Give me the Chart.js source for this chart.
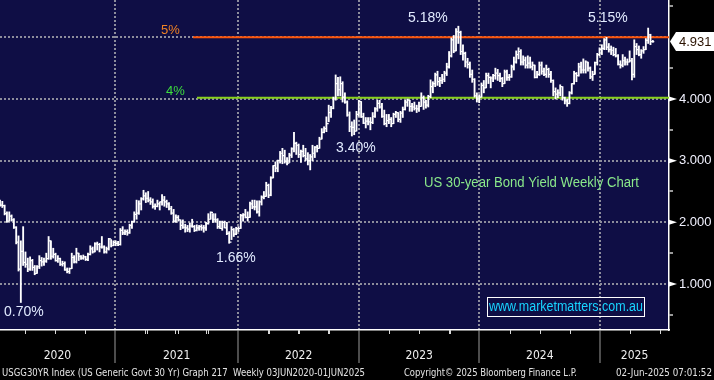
<!DOCTYPE html>
<html><head><meta charset="utf-8">
<script src="https://cdn.jsdelivr.net/npm/chart.js@4.4.1/dist/chart.umd.min.js"></script>
<style>
html,body{margin:0;padding:0;background:#000;overflow:hidden}
#wrap{position:relative;width:714px;height:380px}
canvas{display:block}
</style></head><body>
<div id="wrap"><canvas id="c" width="714" height="380"></canvas></div>
<script>
// Weekly US 30-year yield, week 0 = first week of Jan 2020, last = week of 2 Jun 2025
const weekHigh = [
2.36,2.34,2.28,2.17,2.17,2.12,2.06,1.93,1.78,1.70,1.93,1.52,1.42,1.44,1.40,1.30,1.30,1.46,1.43,1.42,
1.50,1.77,1.70,1.58,1.50,1.46,1.42,1.37,1.36,1.26,1.26,1.50,1.46,1.58,1.50,1.46,1.47,1.45,1.50,1.62,
1.60,1.67,1.68,1.66,1.77,1.62,1.60,1.74,1.72,1.70,1.70,1.69,1.90,1.93,1.88,1.88,1.97,2.02,2.17,2.36,
2.35,2.40,2.52,2.48,2.50,2.40,2.38,2.30,2.36,2.33,2.45,2.42,2.36,2.32,2.26,2.21,2.12,2.11,2.04,2.04,
1.97,1.95,1.99,2.05,1.95,1.96,1.95,1.96,1.95,2.00,2.14,2.17,2.14,2.14,2.06,2.02,2.02,2.02,2.00,1.85,
1.93,1.90,1.92,1.93,2.13,2.14,2.21,2.17,2.33,2.36,2.36,2.35,2.35,2.43,2.50,2.65,2.62,2.74,2.92,2.98,
3.01,3.15,3.20,3.17,3.05,3.12,3.21,3.46,3.30,3.27,3.17,3.25,3.20,3.13,3.10,3.25,3.23,3.25,3.38,3.52,
3.55,3.71,3.90,3.88,4.03,4.39,4.35,4.36,4.28,4.10,3.97,3.79,3.63,3.66,3.80,3.98,3.96,3.77,3.70,3.70,
3.70,3.78,3.86,3.98,3.98,3.93,3.82,3.75,3.75,3.70,3.77,3.80,3.78,3.80,3.87,3.98,4.00,3.98,3.93,3.95,
3.90,3.95,4.10,4.05,3.98,4.06,4.31,4.28,4.42,4.45,4.35,4.40,4.45,4.58,4.77,4.99,5.03,5.14,5.18,5.10,
4.88,4.76,4.66,4.60,4.47,4.33,4.10,4.07,4.26,4.30,4.42,4.42,4.36,4.40,4.50,4.48,4.42,4.35,4.47,4.47,
4.40,4.55,4.68,4.78,4.83,4.80,4.70,4.68,4.70,4.68,4.60,4.55,4.45,4.60,4.60,4.50,4.55,4.50,4.45,4.31,
4.18,4.15,4.23,4.20,4.03,4.00,4.12,4.25,4.45,4.43,4.58,4.60,4.65,4.62,4.60,4.52,4.45,4.60,4.74,4.83,
4.88,4.98,5.00,4.90,4.86,4.84,4.82,4.72,4.62,4.72,4.68,4.65,4.78,4.66,4.96,4.90,4.86,4.80,4.85,4.98,
5.15,5.05,4.95];
const weekLow = [
2.26,2.24,2.12,2.00,2.02,2.02,1.90,1.65,1.21,0.70,1.30,1.27,1.20,1.22,1.22,1.15,1.17,1.25,1.29,1.30,
1.35,1.40,1.40,1.42,1.37,1.35,1.30,1.29,1.22,1.18,1.17,1.25,1.34,1.34,1.38,1.40,1.40,1.38,1.38,1.47,
1.50,1.52,1.55,1.52,1.58,1.50,1.50,1.55,1.60,1.62,1.62,1.62,1.63,1.80,1.80,1.79,1.82,1.90,2.00,2.05,
2.13,2.20,2.36,2.32,2.33,2.29,2.23,2.21,2.25,2.20,2.28,2.26,2.24,2.20,2.13,2.00,2.00,2.02,1.88,1.90,
1.84,1.85,1.84,1.92,1.85,1.86,1.87,1.87,1.84,1.87,1.97,2.05,2.00,2.00,1.90,1.90,1.87,1.91,1.80,1.66,
1.72,1.77,1.80,1.85,1.90,2.02,2.07,2.02,2.08,2.22,2.20,2.15,2.10,2.28,2.38,2.42,2.40,2.43,2.72,2.82,
2.82,2.96,2.95,2.96,2.93,2.97,3.05,3.14,3.10,3.05,2.97,3.06,3.00,2.93,2.85,3.00,3.05,3.14,3.20,3.35,
3.45,3.47,3.63,3.70,3.84,3.98,4.05,4.05,3.95,3.93,3.72,3.47,3.40,3.42,3.48,3.72,3.70,3.60,3.53,3.58,
3.50,3.60,3.70,3.80,3.85,3.70,3.58,3.55,3.60,3.55,3.60,3.70,3.63,3.62,3.70,3.82,3.88,3.80,3.80,3.82,
3.78,3.80,3.88,3.83,3.85,3.87,4.02,4.10,4.20,4.22,4.20,4.25,4.28,4.38,4.50,4.68,4.75,4.78,4.90,4.72,
4.63,4.52,4.50,4.35,4.27,4.03,3.95,3.94,4.03,4.10,4.18,4.25,4.18,4.28,4.32,4.30,4.28,4.20,4.25,4.30,
4.30,4.35,4.47,4.58,4.65,4.55,4.55,4.50,4.50,4.50,4.47,4.34,4.34,4.38,4.40,4.38,4.35,4.35,4.27,4.05,
4.00,4.02,4.05,3.98,3.92,3.88,3.92,4.08,4.24,4.28,4.37,4.42,4.42,4.42,4.45,4.33,4.30,4.40,4.55,4.70,
4.72,4.80,4.80,4.76,4.72,4.70,4.68,4.55,4.50,4.52,4.55,4.55,4.60,4.31,4.35,4.72,4.70,4.66,4.74,4.80,
4.90,4.88,4.92];
const weekClose = [
2.28,2.27,2.14,2.02,2.10,2.04,1.92,1.68,1.24,1.53,1.35,1.32,1.24,1.38,1.27,1.17,1.28,1.38,1.36,1.37,
1.41,1.70,1.45,1.48,1.38,1.41,1.32,1.33,1.23,1.20,1.25,1.43,1.36,1.50,1.45,1.42,1.44,1.40,1.48,1.57,
1.52,1.65,1.64,1.60,1.60,1.52,1.57,1.73,1.62,1.67,1.66,1.64,1.87,1.83,1.85,1.83,1.95,2.01,2.13,2.15,
2.30,2.38,2.43,2.39,2.36,2.33,2.26,2.26,2.30,2.33,2.36,2.33,2.30,2.22,2.15,2.02,2.08,2.04,1.95,1.92,
1.91,1.89,1.94,1.93,1.87,1.91,1.93,1.91,1.91,1.98,2.05,2.16,2.05,2.04,1.93,1.90,2.00,1.91,1.82,1.68,
1.88,1.81,1.90,1.90,2.11,2.12,2.08,2.08,2.30,2.25,2.25,2.17,2.33,2.41,2.42,2.60,2.44,2.72,2.92,2.88,
3.00,3.12,3.08,2.99,2.96,3.09,3.19,3.28,3.25,3.10,3.15,3.08,3.03,3.00,3.06,3.12,3.22,3.20,3.35,3.46,
3.52,3.60,3.78,3.85,4.00,4.25,4.15,4.25,4.03,3.95,3.74,3.55,3.54,3.48,3.75,3.96,3.71,3.61,3.64,3.63,
3.62,3.72,3.84,3.93,3.87,3.72,3.60,3.65,3.67,3.60,3.75,3.78,3.67,3.77,3.83,3.95,3.98,3.88,3.87,3.85,
3.84,3.88,4.02,3.95,3.90,4.04,4.20,4.25,4.39,4.28,4.30,4.32,4.42,4.52,4.70,4.96,4.78,5.09,5.08,4.77,
4.74,4.60,4.56,4.40,4.32,4.05,4.00,4.03,4.22,4.18,4.38,4.35,4.34,4.38,4.42,4.38,4.33,4.25,4.44,4.35,
4.36,4.52,4.60,4.72,4.77,4.60,4.63,4.55,4.58,4.52,4.55,4.35,4.40,4.55,4.45,4.40,4.48,4.40,4.30,4.12,
4.08,4.10,4.20,4.02,3.97,3.93,4.10,4.25,4.41,4.38,4.52,4.47,4.47,4.60,4.50,4.36,4.40,4.59,4.72,4.80,
4.82,4.96,4.84,4.80,4.79,4.72,4.70,4.56,4.55,4.62,4.60,4.60,4.62,4.40,4.85,4.80,4.72,4.78,4.80,4.95,
5.04,4.93,4.931];
const yearLabels = ['2020','2021','2022','2023','2024','2025'];
const yieldTicks = [0.5,1,1.5,2,2.5,3,3.5,4,4.5,5,5.5];
const levelValues = [5.0, 4.02];
const levelLabels = ['5%', '4%'];
const noteTexts = ['5.18%', '5.15%', '3.40%', '1.66%', '0.70%'];

// ---- layout / style (not data) ----
const PLOT_BG = '#0f0e45';
const GRID_COL = '#8d8d9c';
const yearBoundaryWeek = [49.7, 102.8, 155.1, 207.1, 259.2];
const yearLabelWeek = [24.8, 76.3, 129.0, 181.1, 233.2, 274.1];
const boundarySet = new Set(yearBoundaryWeek);
const labelMap = new Map(yearLabelWeek.map((w, k) => [w, yearLabels[k]]));
const SANS = '"Liberation Sans", Arial, sans-serif';
const COND = '"DejaVu Sans Condensed", "Liberation Sans Narrow", sans-serif';

const barData = weekHigh.map((h, i) => ({x: i, y: [weekLow[i], h]}));

const bgPlugin = {
  id: 'bg',
  beforeDraw(chart) {
    const {ctx, chartArea: a} = chart;
    ctx.save();
    ctx.fillStyle = '#000';
    ctx.fillRect(0, 0, chart.width, chart.height);
    ctx.fillStyle = PLOT_BG;
    ctx.fillRect(a.left, a.top, a.right - a.left, a.bottom - a.top);
    ctx.restore();
  }
};

const levelPlugin = {
  id: 'levels',
  beforeDatasetsDraw(chart) {
    const {ctx, chartArea: a, scales: {x, y}} = chart;
    ctx.save();
    const specs = [
      {v: levelValues[0], from: 83.4, color: '#ff560a', w: 2},
      {v: levelValues[1], from: 85.1, color: '#8ad21c', w: 2.2}
    ];
    specs.forEach(s => {
      const py = y.getPixelForValue(s.v);
      ctx.strokeStyle = s.color; ctx.lineWidth = s.w;
      ctx.beginPath(); ctx.moveTo(x.getPixelForValue(s.from), py); ctx.lineTo(a.right, py); ctx.stroke();
    });
    ctx.restore();
  }
};

const ohlcPlugin = {
  id: 'ohlcTicks',
  afterDatasetsDraw(chart) {
    const {ctx, chartArea: a, scales: {x, y}} = chart;
    ctx.save();
    ctx.beginPath(); ctx.rect(a.left, a.top, a.right - a.left, a.bottom - a.top); ctx.clip();
    ctx.strokeStyle = '#ffffff'; ctx.lineWidth = 1.2;
    ctx.beginPath();
    weekClose.forEach((c, i) => {
      const px = x.getPixelForValue(i);
      const o = i > 0 ? weekClose[i - 1] : c;
      const yo = y.getPixelForValue(o), yc = y.getPixelForValue(c);
      ctx.moveTo(px - 1.5, yo); ctx.lineTo(px, yo);
      ctx.moveTo(px, yc); ctx.lineTo(px + 1.5, yc);
    });
    ctx.stroke();
    ctx.restore();
  }
};

const decoPlugin = {
  id: 'deco',
  afterDraw(chart) {
    const {ctx, chartArea: a, scales: {x, y}} = chart;
    ctx.save();
    // quarter minor ticks on the time axis
    ctx.strokeStyle = '#d8d8d8'; ctx.lineWidth = 1;
    yearBoundaryWeek.forEach(b => {
      [-39.1, -26.1, -13.05, 13.05, 26.1, 39.1].forEach(d => {
        const w = b + d;
        if (w < 0 || w > 289) return;
        if (d < 0 && yearBoundaryWeek.some(o => o < b && o > w)) return;
        const px = Math.round(x.getPixelForValue(w)) + 0.5;
        ctx.beginPath(); ctx.moveTo(px, a.bottom); ctx.lineTo(px, a.bottom + 4); ctx.stroke();
      });
    });
    // right-axis triangles at labelled ticks
    ctx.fillStyle = '#ffffff';
    [1, 2, 3, 4].forEach(v => {
      const py = y.getPixelForValue(v);
      ctx.beginPath(); ctx.moveTo(a.right, py - 2.5); ctx.lineTo(a.right + 8, py); ctx.lineTo(a.right, py + 2.5); ctx.closePath(); ctx.fill();
    });
    // last value flag
    const last = weekClose[weekClose.length - 1];
    const ly = y.getPixelForValue(last);
    ctx.fillStyle = '#ffffff';
    ctx.beginPath();
    ctx.moveTo(a.right + 1, ly); ctx.lineTo(a.right + 7, ly - 9.5); ctx.lineTo(714, ly - 9.5);
    ctx.lineTo(714, ly + 9.5); ctx.lineTo(a.right + 7, ly + 9.5); ctx.closePath(); ctx.fill();
    ctx.fillStyle = '#2a1200'; ctx.font = '13px ' + SANS; ctx.textBaseline = 'middle'; ctx.textAlign = 'left';
    ctx.fillText(last.toFixed(3), 679, ly + 1);

    // annotations
    ctx.textBaseline = 'middle';
    ctx.font = '13px ' + SANS;
    ctx.fillStyle = '#f08224'; ctx.fillText(levelLabels[0], 161, 30);
    ctx.fillStyle = '#3ddc3d'; ctx.fillText(levelLabels[1], 166, 91);
    ctx.font = '14px ' + SANS; ctx.fillStyle = '#e2ebff';
    const notePos = [[408, 18], [588, 18], [336, 148], [216, 258], [4, 312]];
    noteTexts.forEach((t, k) => ctx.fillText(t, notePos[k][0], notePos[k][1]));
    ctx.fillStyle = '#8ae88a';
    ctx.fillText('US 30-year Bond Yield Weekly Chart', 424, 183, 215);
    // watermark box
    ctx.strokeStyle = '#ffffff'; ctx.lineWidth = 1;
    ctx.strokeRect(487.5, 297.5, 157, 19);
    ctx.fillStyle = '#18d4ff';
    ctx.fillText('www.marketmatters.com.au', 489, 307.5, 154);

    // footer
    ctx.font = '11px ' + COND; ctx.fillStyle = '#e4e4e4';
    ctx.fillText('USGG30YR Index (US Generic Govt 30 Yr) Graph 217  Weekly 03JUN2020-01JUN2025', 2, 373, 363);
    ctx.fillText('Copyright\u00a9 2025 Bloomberg Finance L.P.', 404, 373, 173);
    ctx.fillText('02-Jun-2025 07:01:52', 616, 373, 96);
    ctx.restore();
  }
};

new Chart(document.getElementById('c'), {
  type: 'bar',
  data: {
    datasets: [{
      data: barData,
      backgroundColor: '#ffffff',
      borderWidth: 0,
      barThickness: 1.2
    }]
  },
  options: {
    responsive: false,
    animation: false,
    devicePixelRatio: 1,
    layout: {padding: 0},
    plugins: {legend: {display: false}, tooltip: {enabled: false}, title: {display: false}},
    scales: {
      x: {
        type: 'linear',
        position: 'bottom',
        min: 0,
        max: 289,
        offset: false,
        afterBuildTicks(scale) {
          scale.ticks = [...yearBoundaryWeek, ...yearLabelWeek].sort((p, q) => p - q).map(v => ({value: v}));
        },
        afterFit(scale) { scale.height = 50; scale.paddingLeft = 0; scale.paddingRight = 0; },
        ticks: {
          autoSkip: false,
          maxRotation: 0,
          padding: -14,
          color: '#f0f0f0',
          font: {family: COND, size: 12},
          callback: (v) => labelMap.get(v) || ''
        },
        grid: {
          offset: false,
          lineWidth: 2,
          color: (c) => boundarySet.has(c.tick && c.tick.value) ? GRID_COL : 'rgba(0,0,0,0)',
          tickLength: 33,
          tickWidth: 1,
          tickColor: (c) => boundarySet.has(c.tick && c.tick.value) ? '#9a9a9a' : 'rgba(0,0,0,0)'
        },
        border: {display: true, color: '#ffffff', width: 1.5, dash: [2, 2]}
      },
      y: {
        type: 'linear',
        position: 'right',
        min: 0.254,
        max: 5.605,
        afterBuildTicks(scale) { scale.ticks = yieldTicks.map(v => ({value: v})); },
        afterFit(scale) { scale.width = 45; scale.paddingTop = 0; scale.paddingBottom = 0; },
        ticks: {
          padding: 6,
          color: '#f2f2ff',
          font: {family: SANS, size: 13},
          callback: (v) => (Number.isInteger(v) && v < 5) ? v.toFixed(3) : ''
        },
        grid: {
          lineWidth: 2,
          color: (c) => (c.tick && Number.isInteger(c.tick.value)) ? GRID_COL : 'rgba(0,0,0,0)',
          tickLength: 4,
          tickWidth: 1.2,
          tickColor: (c) => (c.tick && Number.isInteger(c.tick.value)) ? 'rgba(0,0,0,0)' : '#ffffff'
        },
        border: {display: true, color: '#ffffff', width: 1.5, dash: [2, 2]}
      }
    }
  },
  plugins: [bgPlugin, levelPlugin, ohlcPlugin, decoPlugin]
});
</script>
</body></html>
